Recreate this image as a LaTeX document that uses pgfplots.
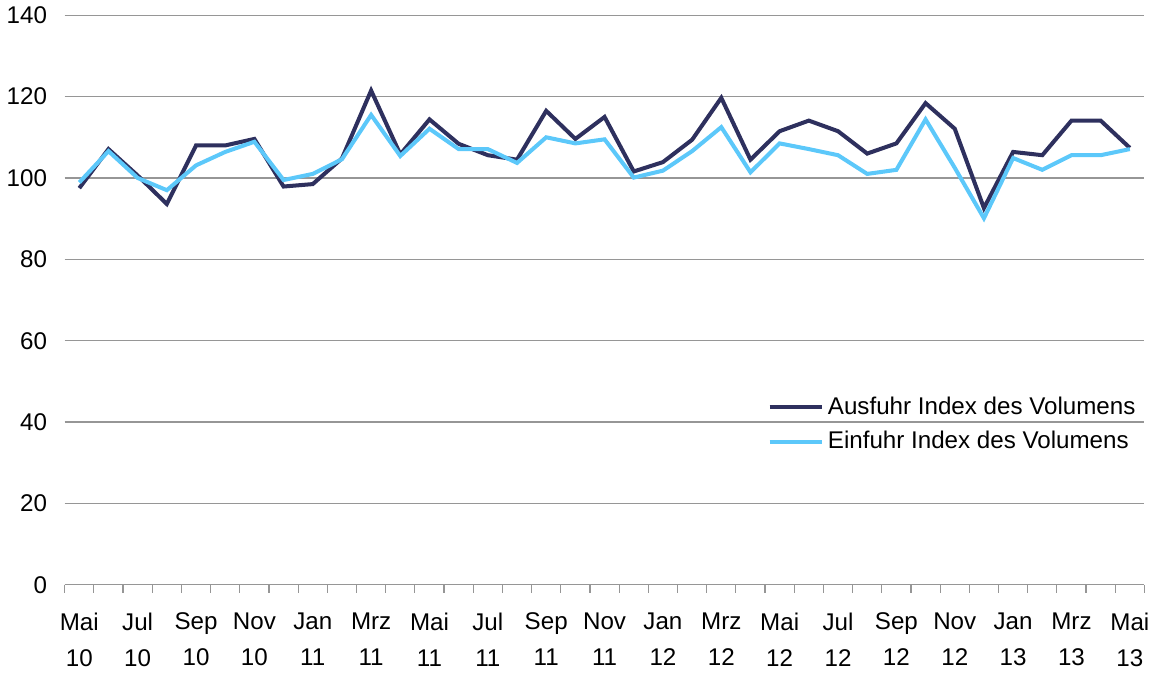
\documentclass[border=0pt]{standalone}
\usepackage{fontspec}
\setmainfont{Liberation Sans}
\usepackage{pgfplots}
\pgfplotsset{compat=1.18}

\definecolor{ausfuhr}{RGB}{46,48,94}
\definecolor{einfuhr}{RGB}{92,200,250}
\definecolor{gridgray}{RGB}{150,150,150}

\pgfplotstableread{
i aus ein
0 97.5 98.9
1 107.1 106.6
2 100.6 100.0
3 93.6 97.0
4 108.0 103.1
5 108.0 106.4
6 109.6 108.9
7 97.9 99.5
8 98.5 101.0
9 104.8 104.6
10 121.5 115.5
11 105.8 105.4
12 114.4 112.1
13 108.4 107.1
14 105.6 107.1
15 104.5 103.7
16 116.5 110.0
17 109.6 108.5
18 115.0 109.5
19 101.6 100.1
20 103.9 101.8
21 109.4 106.6
22 119.7 112.5
23 104.5 101.4
24 111.5 108.5
25 114.1 107.1
26 111.5 105.6
27 106.0 101.0
28 108.5 102.0
29 118.4 114.4
30 112.1 102.5
31 92.6 90.1
32 106.4 104.9
33 105.6 102.0
34 114.1 105.6
35 114.1 105.6
36 107.4 107.1
}\trade

\begin{document}
\begin{tikzpicture}
\begin{axis}[
  scale only axis,
  width=536.5pt, height=283pt,
  xmin=-0.5, xmax=36.5,
  ymin=0, ymax=140,
  ytick={0,20,...,140},
  ymajorgrids,
  y grid style={gridgray, line width=0.6pt},
  separate axis lines,
  axis x line*=bottom,
  axis y line*=left,
  y axis line style={draw=none},
  major y tick style={draw=none},
  x axis line style={gridgray, line width=0.6pt, -},
  xtick={0,2,...,36},
  xticklabels={Mai\\10,Jul\\10,Sep\\10,Nov\\10,Jan\\11,Mrz\\11,Mai\\11,Jul\\11,Sep\\11,Nov\\11,Jan\\12,Mrz\\12,Mai\\12,Jul\\12,Sep\\12,Nov\\12,Jan\\13,Mrz\\13,Mai\\13},
  major x tick style={draw=none},
  minor xtick={-0.5,0.5,...,36.5},
  minor x tick style={gridgray, line width=0.6pt},
  minor tick length=4pt,
  tick align=outside,
  xticklabel style={align=center, font=\fontsize{12}{18}\selectfont, yshift=-6pt},
  yticklabel style={font=\fontsize{12}{14}\selectfont, xshift=-1pt},
  /pgf/number format/assume math mode=true,
  legend style={draw=none, fill=none, at={(0.645,0.345)}, anchor=north west,
    font=\fontsize{12}{14}\selectfont, row sep=3pt},
  legend cell align=left,
  legend image code/.code={\draw[#1, line width=2pt] (0pt,0pt) -- (26pt,0pt);},
]
\addplot[ausfuhr, line width=2pt] table[x=i, y=aus] {\trade};
\addlegendentry{Ausfuhr Index des Volumens}
\addplot[einfuhr, line width=2pt] table[x=i, y=ein] {\trade};
\addlegendentry{Einfuhr Index des Volumens}
\end{axis}
\end{tikzpicture}
\end{document}
